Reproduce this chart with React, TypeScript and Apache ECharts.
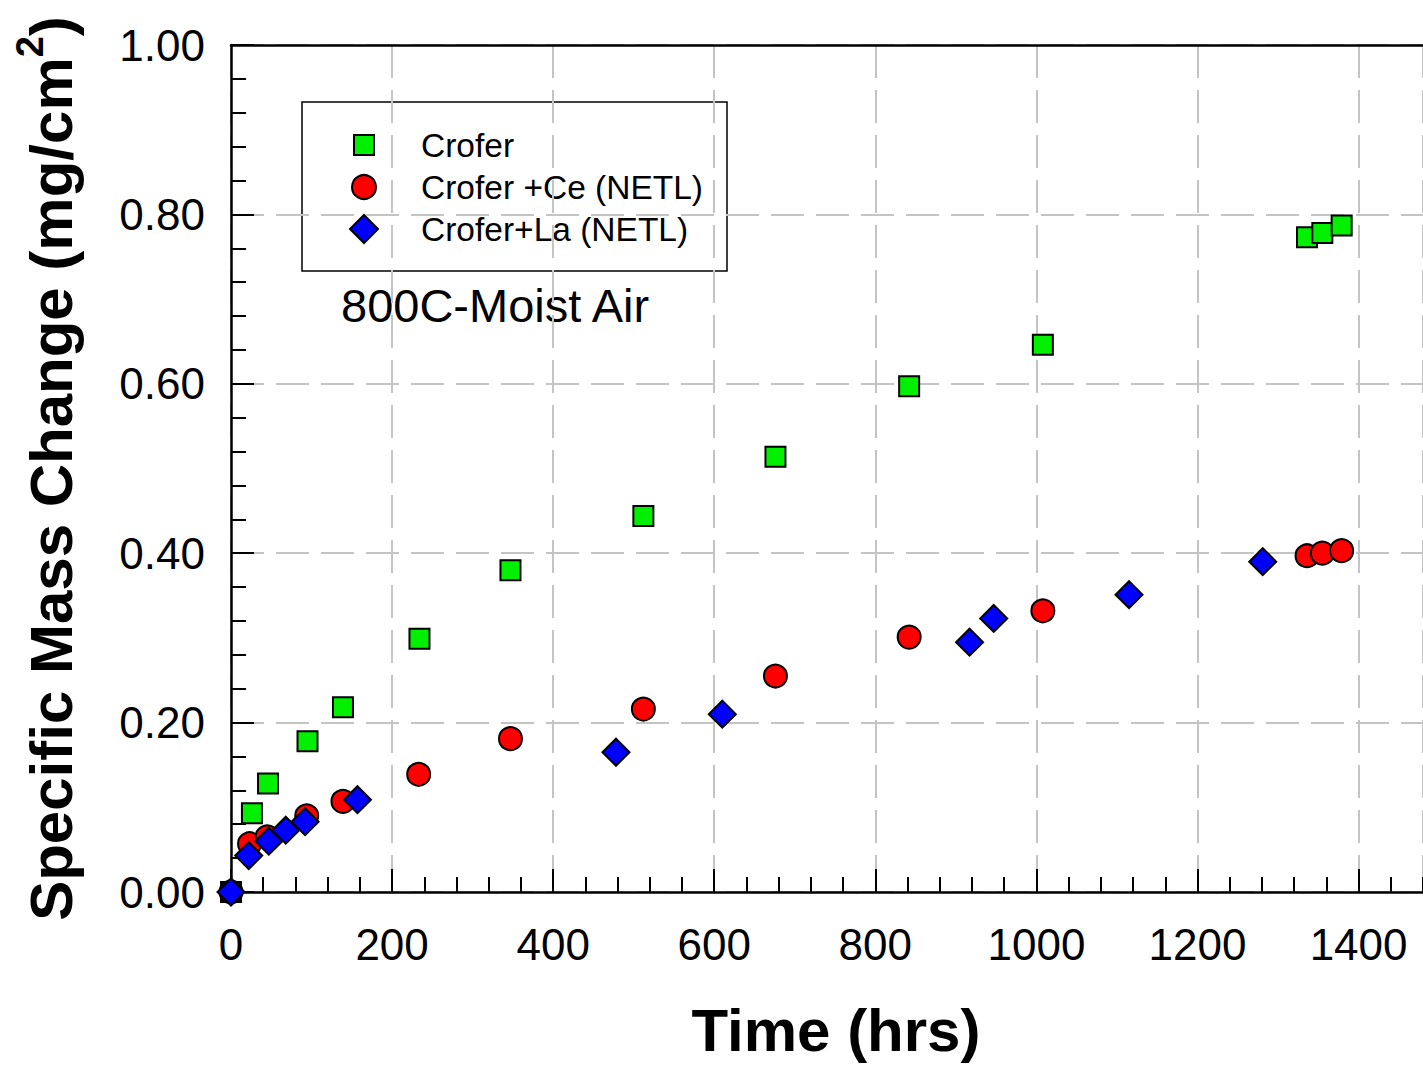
import React, { useEffect, useRef } from "react";
import * as echarts from "echarts";

// ---- Data ----
const TIME_CROFER = [0, 26, 46, 95, 139, 234, 347, 512, 676, 842, 1008, 1336, 1355, 1379];
const MASS_CROFER = [0, 0.093, 0.128, 0.178, 0.218, 0.299, 0.380, 0.444, 0.514, 0.597, 0.646, 0.773, 0.778, 0.787];

const TIME_CE = [0, 23, 45, 94, 139, 233, 347, 512, 676, 842, 1008, 1336, 1355, 1379];
const MASS_CE = [0, 0.057, 0.065, 0.090, 0.107, 0.139, 0.181, 0.216, 0.255, 0.301, 0.332, 0.397, 0.400, 0.403];

const TIME_LA = [0, 22, 47, 68, 92, 157, 478, 610, 917, 947, 1115, 1281];
const MASS_LA = [0, 0.043, 0.060, 0.073, 0.083, 0.109, 0.165, 0.210, 0.295, 0.323, 0.351, 0.390];

const SERIES_NAMES = ["Crofer", "Crofer +Ce (NETL)", "Crofer+La (NETL)"];
const ANNOTATION = "800C-Moist Air";
const X_TITLE = "Time (hrs)";
const Y_TITLE = "Specific Mass Change (mg/cm{sup|2})";

const FONT = "'Liberation Sans', Arial, Helvetica, sans-serif";

export default function App() {
  const ref = useRef<HTMLDivElement>(null);

  useEffect(() => {
    document.body.style.margin = "0";
    const chart = echarts.init(ref.current as HTMLDivElement, null, { renderer: "svg" });
    const zip = (xs: number[], ys: number[]) => xs.map((x, i) => [x, ys[i]]);
    const marker = (color: string) => ({ color, borderColor: "#000", borderWidth: 2, opacity: 1 });
    const gridLine = { show: true, lineStyle: { color: "#c4c4c4", width: 2, type: [33, 12] } };

    chart.setOption({
      animation: false,
      backgroundColor: "#ffffff",
      grid: { left: 231, top: 45, right: -4, bottom: 175, containLabel: false },
      xAxis: [
        {
          type: "value",
          position: "bottom",
          min: 0,
          max: 1480,
          interval: 200,
          name: X_TITLE,
          nameLocation: "middle",
          nameGap: 108,
          nameTextStyle: {
            fontFamily: FONT,
            fontSize: 60,
            fontWeight: "bold",
            color: "#000",
            padding: [0, 0, 0, 18],
          },
          axisLine: { show: true, lineStyle: { color: "#000", width: 2.5 } },
          axisTick: { show: true, inside: true, length: 23, lineStyle: { color: "#000", width: 2 } },
          axisLabel: {
            show: true,
            fontFamily: FONT,
            fontSize: 44,
            color: "#000",
            margin: 30,
            showMaxLabel: false,
            formatter: (v: number) => String(Math.round(v)),
          },
          splitLine: gridLine,
        },
        {
          type: "value",
          position: "bottom",
          min: 0,
          max: 1480,
          interval: 40,
          axisLine: { show: false },
          axisTick: { show: true, inside: true, length: 15, lineStyle: { color: "#000", width: 2 } },
          axisLabel: { show: false },
          splitLine: { show: false },
        },
        {
          type: "value",
          position: "top",
          min: 0,
          max: 1480,
          axisLine: { show: true, lineStyle: { color: "#000", width: 2.5 } },
          axisTick: { show: false },
          axisLabel: { show: false },
          splitLine: { show: false },
        },
      ],
      yAxis: {
        type: "value",
        min: 0,
        max: 1,
        interval: 0.2,
        name: Y_TITLE,
        nameLocation: "middle",
        nameGap: 140,
        nameTextStyle: {
          fontFamily: FONT,
          fontSize: 60,
          fontWeight: "bold",
          color: "#000",
          lineHeight: 80,
          rich: {
            sup: {
              fontFamily: FONT,
              fontSize: 38,
              fontWeight: "bold",
              color: "#000",
              lineHeight: 38,
              verticalAlign: "top",
            },
          },
        },
        axisLine: { show: true, lineStyle: { color: "#000", width: 2.5 } },
        axisTick: { show: true, inside: true, length: 23, lineStyle: { color: "#000", width: 2 } },
        minorTick: { show: true, splitNumber: 5, length: 15, lineStyle: { color: "#000", width: 2 } },
        axisLabel: {
          fontFamily: FONT,
          fontSize: 44,
          color: "#000",
          margin: 26,
          formatter: (v: number) => v.toFixed(2),
        },
        splitLine: gridLine,
      },
      series: [
        {
          type: "scatter",
          name: SERIES_NAMES[0],
          data: zip(TIME_CROFER, MASS_CROFER),
          symbol: "rect",
          symbolSize: 20,
          itemStyle: marker("#00f000"),
          z: 3,
        },
        {
          type: "scatter",
          name: SERIES_NAMES[1],
          data: zip(TIME_CE, MASS_CE),
          symbol: "circle",
          symbolSize: 23,
          itemStyle: marker("#ff0000"),
          z: 4,
        },
        {
          type: "scatter",
          name: SERIES_NAMES[2],
          data: zip(TIME_LA, MASS_LA),
          symbol: "diamond",
          symbolSize: 27,
          itemStyle: marker("#0000ff"),
          z: 5,
        },
      ],
      graphic: [
        {
          type: "group",
          z: 100,
          children: [
            {
              type: "rect",
              shape: { x: 302, y: 102, width: 425, height: 169 },
              style: { fill: "#fff", stroke: "#000", lineWidth: 1.5 },
            },
            {
              type: "rect",
              shape: { x: 354, y: 135, width: 20, height: 20 },
              style: { fill: "#00f000", stroke: "#000", lineWidth: 2 },
            },
            {
              type: "circle",
              shape: { cx: 364, cy: 187, r: 12 },
              style: { fill: "#ff0000", stroke: "#000", lineWidth: 2 },
            },
            {
              type: "polygon",
              shape: { points: [[364, 215], [378, 229], [364, 243], [350, 229]] },
              style: { fill: "#0000ff", stroke: "#000", lineWidth: 2 },
            },
            ...SERIES_NAMES.map((t, i) => ({
              type: "text",
              x: 421,
              y: 145 + i * 42,
              style: {
                text: t,
                font: `33.5px ${FONT}`,
                fill: "#000",
                align: "left",
                verticalAlign: "middle",
                textAlign: "left",
                textVerticalAlign: "middle",
              },
            })),
            {
              type: "text",
              x: 341,
              y: 305,
              style: {
                text: ANNOTATION,
                font: `47px ${FONT}`,
                fill: "#000",
                align: "left",
                verticalAlign: "middle",
                textAlign: "left",
                textVerticalAlign: "middle",
              },
            },
          ],
        },
      ],
    });

    return () => {
      chart.dispose();
    };
  }, []);

  return <div ref={ref} style={{ width: 1423, height: 1067, background: "#fff" }} />;
}
